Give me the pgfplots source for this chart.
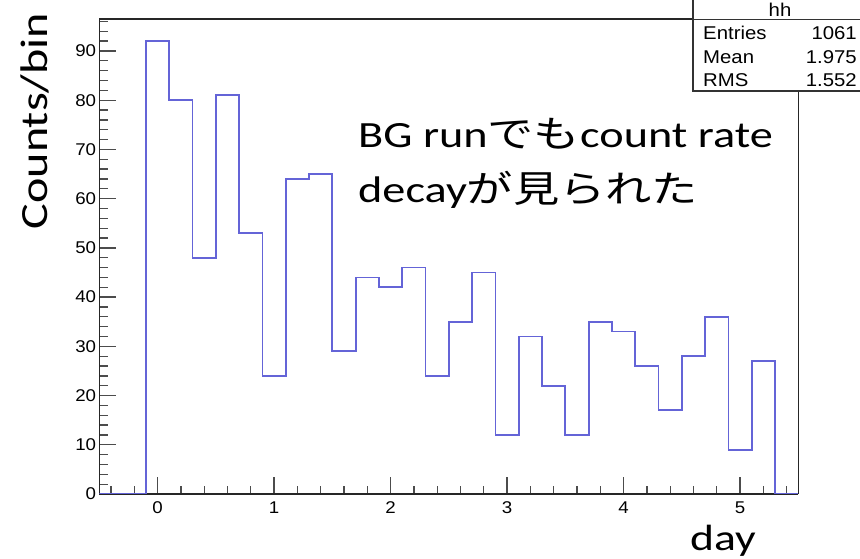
\documentclass[border=0pt]{standalone}
\usepackage{fontspec}
\usepackage{pgfplots}
\pgfplotsset{compat=1.18}
\setmainfont{Liberation Sans}
\newfontfamily\tickfont[FakeStretch=1.1]{Liberation Sans}
\newfontfamily\calfont[FakeStretch=1.25]{Carlito}
\newfontfamily\jpfont[FakeStretch=1.25]{Noto Sans CJK JP}
\definecolor{histblue}{RGB}{100,100,215}

\begin{document}
\begin{tikzpicture}
\useasboundingbox (0,0) rectangle (860bp,559bp);
\begin{axis}[at={(99.3bp,65bp)}, anchor=south west, scale only axis,
  width=699bp, height=475bp,
  xmin=-0.5, xmax=5.5, ymin=0, ymax=96.5,
  xtick={0,1,2,3,4,5}, ytick={0,10,20,30,40,50,60,70,80,90},
  minor xtick={-0.4,-0.2,0.2,0.4,0.6,0.8,1.2,1.4,1.6,1.8,2.2,2.4,2.6,2.8,3.2,3.4,3.6,3.8,4.2,4.4,4.6,4.8,5.2,5.4},
  minor ytick={2,4,...,96},
  xtick pos=left, ytick pos=left, tick align=inside,
  major tick length=17bp, minor tick length=8.5bp,
  separate axis lines,
  every outer x axis line/.append style={black!85, line width=1.6bp},
  every outer y axis line/.append style={black!85, line width=1.6bp},
  xtick style={draw=black!70, line width=1.3bp},
  ytick style={draw=black!70, line width=1.3bp},
  /pgf/number format/assume math mode=true,
  ticklabel style={font=\tickfont\fontsize{17bp}{20bp}\selectfont, inner sep=0pt},
  xticklabel style={yshift=-7.5bp},
  yticklabel style={xshift=-3bp}]
\addplot[const plot, histblue, line width=1.8bp] coordinates {
(-0.5,0) (-0.1,92) (0.1,80) (0.3,48) (0.5,81) (0.7,53) (0.9,24) (1.1,64) (1.3,65)
(1.5,29) (1.7,44) (1.9,42) (2.1,46) (2.3,24) (2.5,35) (2.7,45) (2.9,12) (3.1,32)
(3.3,22) (3.5,12) (3.7,35) (3.9,33) (4.1,26) (4.3,17) (4.5,28) (4.7,36) (4.9,9)
(5.1,27) (5.3,0) (5.5,0)};
\end{axis}
% stats box
\fill[white] (693bp,468bp) rectangle (870bp,570bp);
\draw[black!80, line width=1.2bp] (693bp,570bp) -- (693bp,468bp) -- (870bp,468bp);
\draw[black!80, line width=2bp] (693bp,468bp) -- (870bp,468bp);
\draw[black!80, line width=1bp] (693bp,539bp) -- (870bp,539bp);
\begin{scope}[every node/.style={inner sep=0pt, font=\tickfont\fontsize{18.5bp}{20bp}\selectfont}]
\node[anchor=base] at (780bp,542bp) {hh};
\node[anchor=base west] at (703bp,519bp) {Entries};
\node[anchor=base east] at (857bp,519bp) {1061};
\node[anchor=base west] at (703bp,495bp) {Mean};
\node[anchor=base east] at (857bp,495bp) {1.975};
\node[anchor=base west] at (703bp,472bp) {RMS};
\node[anchor=base east] at (857bp,472bp) {1.552};
\end{scope}
% labels
\node[rotate=90, anchor=base, inner sep=0pt] at (47bp,438bp) {\calfont\fontsize{38.5bp}{40bp}\selectfont Counts/bin};
\node[anchor=base west, inner sep=0pt] at (690bp,9bp) {\calfont\fontsize{36.5bp}{40bp}\selectfont day};
\node[anchor=base west, inner sep=0pt] at (358bp,411bp) {\calfont\fontsize{37bp}{40bp}\selectfont BG run{\jpfont でも}count rate};
\node[anchor=base west, inner sep=0pt] at (358bp,356bp) {\calfont\fontsize{37bp}{40bp}\selectfont decay{\jpfont が見られた}};
\end{tikzpicture}
\end{document}
